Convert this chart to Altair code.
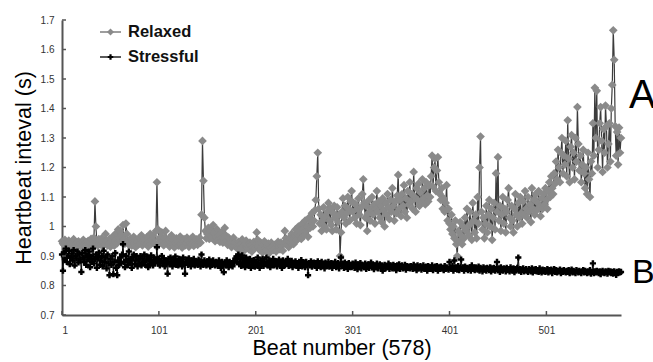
import altair as alt
import pandas as pd

# Heartbeat intervals in milliseconds (beats 1..578)
relaxed_ms = [
    950, 942, 938, 955, 946, 931, 940, 952, 936, 944, 929, 948, 957, 934, 941, 926, 945, 950, 937, 943,
    932, 948, 955, 940, 929, 946, 938, 951, 935, 944, 958, 930, 941, 962, 1085, 1000, 948, 935, 957, 944,
    939, 960, 933, 947, 941, 975, 952, 936, 944, 958, 931, 949, 965, 940, 935, 951, 978, 944, 990, 962,
    985, 948, 970, 1005, 958, 942, 1010, 975, 950, 938, 946, 960, 935, 948, 965, 942, 930, 955, 947, 939,
    962, 944, 970, 936, 951, 945, 958, 940, 965, 932, 948, 975, 941, 955, 968, 946, 940, 985, 1150, 990,
    958, 944, 965, 980, 950, 936, 962, 985, 948, 940, 958, 932, 946, 970, 955, 938, 929, 947, 960, 943,
    935, 952, 966, 940, 928, 948, 957, 936, 944, 962, 950, 931, 945, 958, 940, 965, 934, 950, 942, 956,
    938, 951, 962, 945, 1040, 1290, 1155, 1030, 985, 960, 975, 995, 958, 970, 985, 962, 1005, 978, 950, 965,
    990, 955, 972, 948, 962, 980, 945, 958, 995, 970, 950, 938, 962, 944, 955, 930, 948, 962, 936, 945,
    930, 925, 948, 938, 920, 942, 956, 931, 918, 940, 952, 928, 935, 922, 945, 938, 915, 930, 948, 926,
    940, 980, 955, 932, 920, 945, 928, 912, 938, 950, 925, 918, 935, 942, 910, 928, 945, 932, 920, 938,
    926, 915, 940, 948, 930, 922, 945, 935, 918, 942, 985, 960, 938, 950, 930, 962, 945, 975, 955, 940,
    968, 990, 952, 975, 1000, 965, 985, 958, 1010, 992, 970, 1020, 985, 1000, 965, 1030, 995, 1015, 1045, 1000,
    1020, 1055, 1090, 1170, 1250, 1060, 1010, 1040, 985, 1020, 1065, 1000, 1035, 990, 1050, 1080, 1020, 1060, 1005, 985,
    1045, 1070, 1030, 990, 1065, 1015, 1040, 900, 980, 1050, 1095, 1030, 1070, 1010, 1045, 1100, 1060, 1020, 1085, 1120,
    1050, 1080, 1030, 1075, 1010, 1060, 1095, 1040, 1005, 1065, 1110, 1160, 1080, 1030, 1070, 985, 1045, 1090, 1020, 1060,
    1100, 1040, 1075, 1010, 1060, 1120, 1050, 1085, 1030, 1070, 1015, 1095, 1055, 1000, 1080, 1040, 1110, 1065, 1025, 1090,
    1050, 1130, 1070, 1020, 1085, 1045, 1105, 1175, 1060, 1090, 1035, 1110, 1070, 1140, 1050, 1095, 1030, 1120, 1075, 1150,
    1085, 1110, 1060, 1185, 1100, 1050, 1130, 1090, 1145, 1070, 1115, 1080, 1160, 1095, 1130, 1075, 1150, 1105, 1085, 1140,
    1100, 1170, 1240, 1135, 1200, 1230, 1120, 1190, 1235, 1150, 1110, 1090, 1130, 1060, 1095, 1050, 1080, 1140, 1020, 1060,
    1010, 990, 1040, 975, 1000, 960, 1020, 940, 900, 985, 950, 1015, 970, 940, 1000, 960, 1030, 985, 1060, 1000,
    970, 1050, 1010, 955, 1080, 1020, 980, 1040, 960, 1100, 1010, 1200, 1305, 1050, 990, 1030, 960, 1010, 1070, 980,
    1040, 1090, 1000, 1060, 955, 1030, 1080, 990, 1180, 1050, 1235, 1020, 1070, 985, 1040, 1100, 1010, 1060, 980, 1050,
    1090, 1130, 1030, 1000, 1070, 1020, 980, 1060, 1110, 1040, 1000, 1080, 1030, 1100, 1045, 1010, 1085, 1040, 1120, 1060,
    1030, 1100, 1050, 1075, 1015, 1130, 1060, 1090, 1040, 1110, 1055, 1080, 1120, 1065, 1035, 1095, 1060, 1110, 1075, 1130,
    1090, 1060, 1120, 1150, 1100, 1170, 1130, 1110, 1180, 1145, 1220, 1160, 1260, 1200, 1150, 1250, 1300, 1180, 1240, 1210,
    1290, 1170, 1360, 1230, 1150, 1270, 1310, 1200, 1250, 1160, 1300, 1220, 1405, 1280, 1190, 1240, 1150, 1210, 1260, 1180,
    1130, 1200, 1110, 1250, 1160, 1100, 1220, 1180, 1350, 1240, 1470, 1300, 1460, 1200, 1260, 1350, 1405, 1290, 1185, 1330,
    1250, 1410, 1340, 1200, 1280, 1350, 1220, 1400, 1480, 1665, 1565, 1340, 1240, 1320, 1210, 1335, 1250, 1300,
]

stressful_ms = [
    905, 850, 912, 890, 925, 880, 900, 918, 872, 895, 908, 885, 920, 868, 900, 892, 915, 878, 905, 888,
    846, 910, 895, 880, 920, 870, 902, 888, 915, 862, 898, 880, 925, 875, 890, 905, 860, 895, 912, 870,
    885, 900, 865, 918, 880, 895, 858, 905, 875, 835, 890, 870, 900, 838, 880, 910, 860, 835, 885, 870,
    895, 875, 905, 940, 880, 862, 900, 885, 870, 915, 878, 890, 860, 895, 905, 872, 885, 900, 865, 888,
    875, 900, 868, 892, 880, 905, 870, 885, 898, 862, 890, 875, 902, 880, 868, 895, 878, 888, 930, 875,
    890, 868, 882, 900, 875, 892, 865, 885, 878, 840, 890, 872, 895, 880, 865, 888, 875, 898, 870, 882,
    868, 890, 878, 885, 865, 895, 872, 840, 880, 888, 870, 892, 878, 865, 885, 875, 890, 868, 882, 876,
    870, 888, 880, 865, 905, 878, 870, 885, 875, 868, 882, 872, 888, 865, 878, 870, 885, 874, 868, 880,
    872, 866, 885, 875, 860, 880, 870, 845, 878, 868, 885, 872, 862, 880, 870, 875, 865, 882, 878, 892,
    898, 880, 905, 872, 890, 866, 902, 878, 888, 862, 895, 874, 884, 866, 890, 860, 880, 870, 886, 864,
    880, 868, 895, 872, 860, 885, 875, 890, 866, 880, 872, 895, 868, 878, 885, 862, 880, 872, 890, 868,
    875, 882, 865, 878, 888, 870, 876, 860, 885, 872, 868, 880, 874, 890, 866, 878, 870, 884, 862, 876,
    870, 882, 868, 876, 860, 880, 872, 886, 865, 874, 878, 862, 880, 870, 835, 876, 868, 882, 864, 872,
    878, 866, 874, 860, 882, 870, 876, 862, 880, 868, 874, 858, 878, 870, 866, 880, 864, 872, 876, 860,
    874, 866, 880, 862, 870, 876, 858, 872, 895, 866, 874, 860, 878, 868, 872, 856, 876, 864, 870, 862,
    874, 866, 860, 878, 868, 855, 872, 864, 876, 858, 870, 866, 862, 874, 856, 868, 872, 860, 866, 878,
    862, 870, 855, 868, 864, 874, 858, 866, 872, 860, 868, 850, 864, 870, 858, 866, 862, 874, 856, 868,
    864, 858, 870, 862, 866, 852, 868, 860, 872, 856, 864, 868, 858, 862, 870, 854, 866, 860, 864, 858,
    866, 862, 856, 870, 860, 864, 852, 868, 858, 862, 866, 854, 860, 868, 856, 862, 864, 850, 866, 858,
    862, 856, 868, 852, 860, 864, 858, 866, 850, 862, 856, 864, 858, 860, 852, 866, 856, 862, 858, 854,
    880, 860, 856, 866, 850, 885, 858, 862, 854, 866, 852, 860, 888, 856, 862, 850, 864, 858, 860, 852,
    858, 862, 850, 868, 856, 860, 852, 862, 858, 854, 864, 850, 860, 856, 848, 862, 854, 858, 850, 860,
    856, 852, 862, 848, 858, 854, 860, 850, 856, 880, 852, 858, 846, 862, 854, 850, 858, 856, 848, 860,
    852, 856, 848, 862, 854, 850, 858, 845, 856, 852, 860, 895, 850, 856, 846, 854, 858, 848, 852, 856,
    850, 846, 856, 852, 848, 858, 844, 854, 850, 856, 848, 852, 846, 858, 850, 844, 854, 848, 852, 846,
    850, 856, 844, 852, 848, 854, 842, 850, 856, 846, 852, 844, 850, 848, 854, 842, 850, 846, 852, 848,
    844, 850, 846, 852, 842, 848, 854, 844, 850, 846, 842, 852, 848, 844, 850, 846, 842, 848, 852, 844,
    850, 846, 842, 848, 844, 852, 840, 846, 875, 842, 848, 844, 850, 846, 842, 848, 838, 846, 850, 844,
    842, 848, 846, 840, 850, 844, 848, 842, 846, 840, 848, 844, 836, 846, 842, 848, 844, 846,
]

x_tick_values = [1, 101, 201, 301, 401, 501]
y_tick_values = [0.7, 0.8, 0.9, 1.0, 1.1, 1.2, 1.3, 1.4, 1.5, 1.6, 1.7]
series_names = ["Relaxed", "Stressful"]
side_labels = ["A", "B"]

rel = pd.DataFrame({"beat": list(range(1, len(relaxed_ms) + 1)),
                    "value": [v / 1000 for v in relaxed_ms]})
stre = pd.DataFrame({"beat": list(range(1, len(stressful_ms) + 1)),
                     "value": [v / 1000 for v in stressful_ms]})

FONT = "Liberation Sans"
W, H = 559, 295

x_enc = alt.X("beat:Q",
              scale=alt.Scale(domain=[1, 578], nice=False, zero=False),
              axis=alt.Axis(values=x_tick_values, format="d", title="Beat number (578)",
                            labelPadding=10, titlePadding=2))
y_enc = alt.Y("value:Q",
              scale=alt.Scale(domain=[0.7, 1.7], nice=False, zero=False),
              axis=alt.Axis(values=y_tick_values, format="~g", title="Heartbeat inteval (s)",
                            labelPadding=8, titlePadding=5))

rel_line = alt.Chart(rel).mark_line(color="#3c3c3c", strokeWidth=1.2).encode(x=x_enc, y=y_enc)
rel_pts = alt.Chart(rel).mark_point(shape="diamond", filled=True, color="#8a8a8a",
                                    size=76, opacity=1).encode(x=x_enc, y=y_enc)
st_line = alt.Chart(stre).mark_line(color="#000000", strokeWidth=1).encode(x=x_enc, y=y_enc)
st_pts = alt.Chart(stre).mark_point(shape="cross", filled=True, color="#000000",
                                    size=38, opacity=1).encode(x=x_enc, y=y_enc)

# inward tick marks
xt = alt.Chart(pd.DataFrame({"beat": x_tick_values})).mark_rule(
    color="#555555", strokeWidth=1.5).encode(x=x_enc, y=alt.value(H), y2=alt.value(H - 4))
yt = alt.Chart(pd.DataFrame({"value": y_tick_values})).mark_rule(
    color="#555555", strokeWidth=1.5).encode(y=y_enc, x=alt.value(0), x2=alt.value(4))

# legend (drawn inside plot, top-left)
leg = []
leg_rows = [(series_names[0], "#8a8a8a", "#6a6a6a", "diamond", 50, 12),
            (series_names[1], "#000000", "#000000", "cross", 30, 37)]
for name, col, lcol, shp, sz, yy in leg_rows:
    leg.append(alt.Chart().mark_rule(color=lcol, strokeWidth=1.3).encode(
        x=alt.value(38), x2=alt.value(59), y=alt.value(yy)))
    leg.append(alt.Chart().mark_point(shape=shp, filled=True, color=col, size=sz, opacity=1).encode(
        x=alt.value(48.5), y=alt.value(yy)))
    leg.append(alt.Chart().mark_text(text=name, font=FONT, fontSize=16.5, fontWeight="bold",
                                     align="left", baseline="middle", color="#111111").encode(
        x=alt.value(66), y=alt.value(yy)))

lab_a = alt.Chart().mark_text(text=side_labels[0], font=FONT, fontSize=40, align="left",
                              baseline="alphabetic", color="#000000").encode(
    x=alt.value(567), y=alt.value(88))
lab_b = alt.Chart().mark_text(text=side_labels[1], font=FONT, fontSize=34, align="left",
                              baseline="alphabetic", color="#000000").encode(
    x=alt.value(570), y=alt.value(263))

chart = alt.layer(rel_line, rel_pts, st_line, st_pts, xt, yt, *leg, lab_a, lab_b).properties(
    width=W, height=H,
    autosize=alt.AutoSizeParams(type="none"),
    padding={"left": 62, "top": 20, "right": 32, "bottom": 47},
).configure_view(stroke=None).configure_axis(
    domainColor="#555555", domainWidth=2, ticks=False, grid=False,
    labelFont=FONT, titleFont=FONT, labelColor="#333333", titleColor="#000000",
    labelFontSize=10, titleFontSize=21.5, titleFontWeight="normal",
)

chart.save("out.html", embed_options={"renderer": "svg", "actions": False})
